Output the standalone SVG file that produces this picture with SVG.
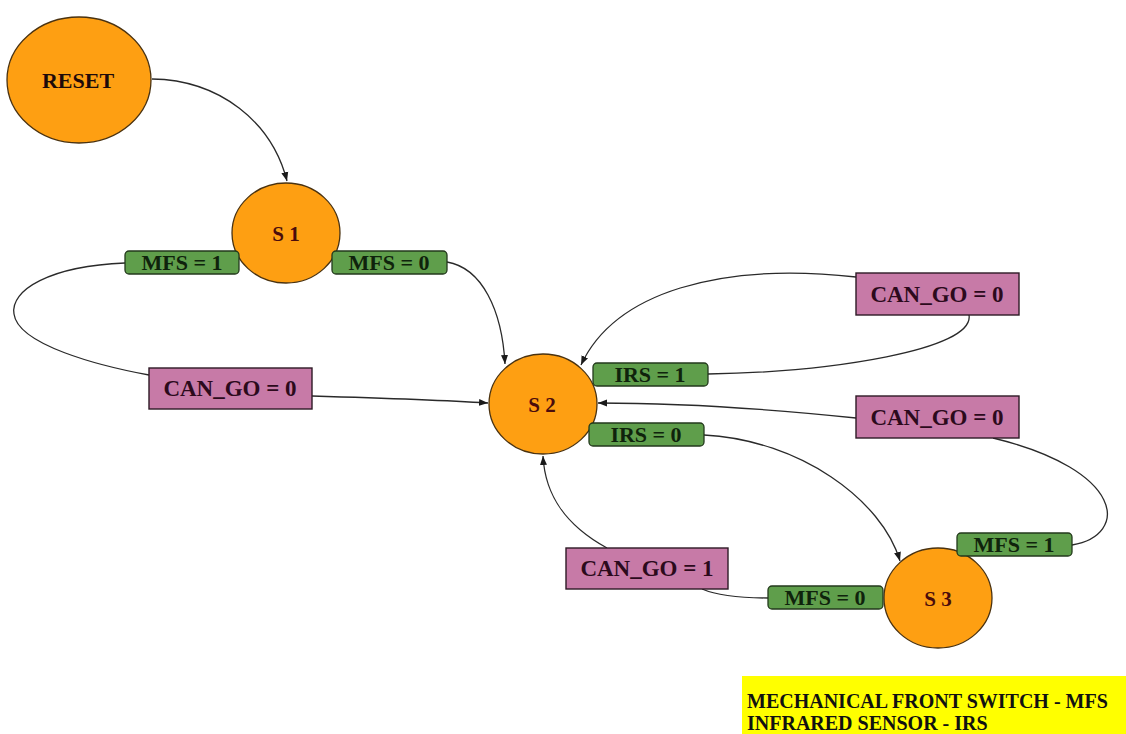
<svg xmlns="http://www.w3.org/2000/svg" width="1126" height="734" viewBox="0 0 1126 734">
  <defs>
    <marker id="arrow" markerUnits="userSpaceOnUse" markerWidth="10" markerHeight="8" refX="9" refY="4" orient="auto">
      <path d="M0,0.5 L9,4 L0,7.5 Z" fill="#1a1a1a"/>
    </marker>
    <style>
      .state { fill: #fe9f12; stroke: #4a3210; stroke-width: 1.3; }
      .state-text { font-family: "Liberation Serif", serif; font-weight: bold; font-size: 21px; fill: #4a0c0c; text-anchor: middle; }
      .reset-text { fill: #1e0a0a; font-size: 22px; }
      .edge { fill: none; stroke: #2a2a2a; stroke-width: 1.3; }
      .to { marker-end: url(#arrow); }
      .g-box { fill: #5f9e4b; stroke: #23391c; stroke-width: 1.3; }
      .g-text { font-family: "Liberation Serif", serif; font-weight: bold; font-size: 22px; fill: #0f230c; text-anchor: middle; }
      .m-box { fill: #c77aa7; stroke: #2e1a26; stroke-width: 1.4; }
      .m-text { font-family: "Liberation Serif", serif; font-weight: bold; font-size: 23px; fill: #2c0a1c; text-anchor: middle; }
      .legend-text { font-family: "Liberation Serif", serif; font-weight: bold; font-size: 20px; fill: #111; }
    </style>
  </defs>

  <rect width="1126" height="734" fill="#ffffff"/>

  <!-- transitions -->
  <g id="connectors">
    <path id="e-reset-s1" class="edge to" d="M152,79 C220,80 272,122 287,181"/>
    <path id="e-s1-mfs1-a" class="edge" d="M125,263 C50,266 10,290 14,314 C18,345 100,366 149,375"/>
    <path id="e-s1-mfs1-b" class="edge to" d="M312,396 C380,398 440,400 488,403"/>
    <path id="e-s1-mfs0" class="edge to" d="M447,262 C482,268 502,310 505,364"/>
    <path id="e-s2-irs1-a" class="edge" d="M708,374 C830,372 975,350 969,315"/>
    <path id="e-s2-irs1-b" class="edge to" d="M856,277 C720,262 615,292 581,365"/>
    <path id="e-s2-irs0" class="edge to" d="M704,435 C800,440 882,500 900,561"/>
    <path id="e-s3-mfs1-a" class="edge" d="M1072,545 C1130,535 1125,470 993,438"/>
    <path id="e-s3-mfs1-b" class="edge to" d="M856,418 C760,408 680,403 598,403"/>
    <path id="e-s3-mfs0-a" class="edge" d="M768,598 C740,598 716,595 702,589"/>
    <path id="e-s3-mfs0-b" class="edge to" d="M607,548 C565,525 545,495 543,456"/>
  </g>

  <!-- states -->
  <g id="node-reset">
    <ellipse class="state" cx="79" cy="80" rx="72" ry="63"/>
    <text class="state-text reset-text" x="78" y="88">RESET</text>
  </g>
  <g id="node-s1">
    <ellipse class="state" cx="286" cy="233" rx="54" ry="50"/>
    <text class="state-text" x="286" y="241">S 1</text>
  </g>
  <g id="node-s2">
    <ellipse class="state" cx="543" cy="404" rx="54" ry="50"/>
    <text class="state-text" x="542" y="412">S 2</text>
  </g>
  <g id="node-s3">
    <ellipse class="state" cx="938" cy="598" rx="54" ry="50"/>
    <text class="state-text" x="938" y="606">S 3</text>
  </g>

  <!-- transition conditions -->
  <g id="labels">
    <g id="lbl-s1-mfs1">
      <rect class="g-box" x="125" y="251" width="114" height="23" rx="4"/>
      <text class="g-text" x="182" y="270">MFS = 1</text>
    </g>
    <g id="lbl-s1-mfs0">
      <rect class="g-box" x="332" y="251" width="115" height="23" rx="4"/>
      <text class="g-text" x="389" y="270">MFS = 0</text>
    </g>
    <g id="lbl-left-cango0">
      <rect class="m-box" x="149" y="368" width="163" height="41"/>
      <text class="m-text" x="230" y="396">CAN_GO = 0</text>
    </g>
    <g id="lbl-s2-irs1">
      <rect class="g-box" x="593" y="363" width="115" height="23" rx="4"/>
      <text class="g-text" x="650" y="382">IRS = 1</text>
    </g>
    <g id="lbl-s2-irs0">
      <rect class="g-box" x="589" y="423" width="115" height="23" rx="4"/>
      <text class="g-text" x="646" y="442">IRS = 0</text>
    </g>
    <g id="lbl-top-cango0">
      <rect class="m-box" x="856" y="273" width="163" height="42"/>
      <text class="m-text" x="937" y="302">CAN_GO = 0</text>
    </g>
    <g id="lbl-mid-cango0">
      <rect class="m-box" x="856" y="396" width="163" height="42"/>
      <text class="m-text" x="937" y="425">CAN_GO = 0</text>
    </g>
    <g id="lbl-s3-mfs1">
      <rect class="g-box" x="957" y="533" width="115" height="23" rx="4"/>
      <text class="g-text" x="1014" y="552">MFS = 1</text>
    </g>
    <g id="lbl-s3-mfs0">
      <rect class="g-box" x="768" y="586" width="115" height="23" rx="4"/>
      <text class="g-text" x="825" y="605">MFS = 0</text>
    </g>
    <g id="lbl-bottom-cango1">
      <rect class="m-box" x="566" y="548" width="162" height="41"/>
      <text class="m-text" x="647" y="576">CAN_GO = 1</text>
    </g>
  </g>

  <!-- abbreviations key -->
  <g id="legend">
    <rect x="742" y="676" width="384" height="58" fill="#ffff00"/>
    <text class="legend-text" x="747" y="708">MECHANICAL FRONT SWITCH - MFS</text>
    <text class="legend-text" x="747" y="730">INFRARED SENSOR - IRS</text>
  </g>
</svg>
